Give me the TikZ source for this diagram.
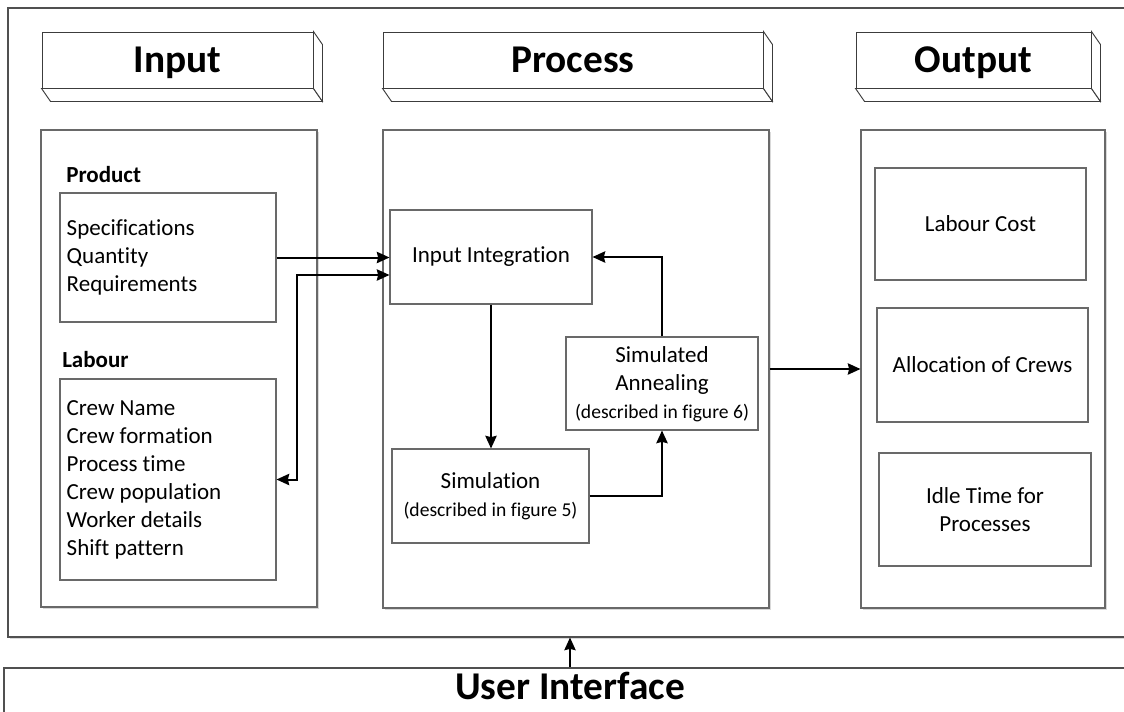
\documentclass[tikz,border=0pt]{standalone}
\usepackage{fontspec}
\setmainfont{Carlito}[Ligatures=NoCommon]
\usetikzlibrary{arrows.meta,fit,calc,shadows}
\definecolor{boxgray}{RGB}{105,105,105}
\definecolor{framegray}{RGB}{80,80,80}
\definecolor{hdrgray}{RGB}{60,60,60}
\newcommand{\bodyf}{\fontsize{17.25}{21}\selectfont}
\newcommand{\smallf}{\fontsize{14.7}{20}\selectfont}
\newcommand{\hdrf}{\fontsize{29.5}{35}\selectfont\bfseries}
\begin{document}
\begin{tikzpicture}[x=0.75pt,y=-0.75pt,
  box/.style={draw=boxgray, line width=0.8pt, fill=white, inner sep=0pt, font=\bodyf, align=center},
  panel/.style={box, drop shadow={shadow xshift=1.5pt, shadow yshift=-1.5pt, fill=black!15, opacity=1}},
  hdr/.style={draw=hdrgray, line width=0.7pt, fill=white, inner sep=0pt, font=\hdrf},
  hdrside/.style={draw=hdrgray, line width=0.7pt, fill=white, line join=miter},
  hdrtext/.style={font=\hdrf, inner sep=0pt, anchor=base},
  arr/.style={draw=black, line width=1.5pt, -{Stealth[length=9.5pt,width=8.5pt,inset=1pt]}},
  darr/.style={draw=black, line width=1.5pt, {Stealth[length=9.5pt,width=8.5pt,inset=1pt]}-{Stealth[length=9.5pt,width=8.5pt,inset=1pt]}},
  lbl/.style={font=\bodyf\bfseries, inner sep=0pt, anchor=west},
  list/.style={font=\bodyf, align=left, inner sep=0pt, anchor=west}
]
\useasboundingbox (0,0) rectangle (1124,711);
\clip (0,0) rectangle (1124,711);
\fill[white] (0,0) rectangle (1124,711);

% outer frame and user interface
\node[box, draw=framegray, drop shadow={shadow xshift=1.5pt, shadow yshift=-1.5pt, fill=black!15, opacity=1}, fit={(8,8) (1132,637)}] (frame) {};
\node[box, draw=framegray, line width=1pt, fit={(4,668) (1136,730)}] (ui) {};
\node[hdrtext] (uitext) at (570,699) {User Interface};

% 3-D headers
\node[hdr, fit={(42,32) (313,88)}] (hin) {};
\node[hdr, fit={(383,32) (763,88)}] (hpr) {};
\node[hdr, fit={(856,32) (1091,88)}] (hout) {};
\foreach \h in {hin,hpr,hout}{
  \draw[hdrside] (\h.south west) -- ++(9,13) -- ($(\h.south east)+(9,13)$) -- (\h.south east) -- cycle;
  \draw[hdrside] (\h.south east) -- ++(9,13) -- ($(\h.north east)+(9,13)$) -- (\h.north east) -- cycle;
}
\node[hdrtext] at ($(hin.center)+(0,12)$) {Input};
\node[hdrtext] at ($(hpr.center)+(0,12)$) {Process};
\node[hdrtext] at ($(hout.center)+(0,12)$) {Output};

% panels
\node[panel, fit={(41,130) (317,607)}] (inpanel) {};
\node[panel, fit={(383,130) (769,608)}] (procpanel) {};
\node[panel, fit={(861,130) (1105,608)}] (outpanel) {};

% input panel
\node[lbl] (prodlbl) at (66,175) {Product};
\node[box, fit={(60,193) (276,322)}] (prodbox) {};
\node[list] (prodlist) at ($(prodbox.west)+(7,0)$) {Specifications\\Quantity\\Requirements};
\node[lbl] (lablbl) at (62,360) {Labour};
\node[box, fit={(60,379) (276,580)}] (labbox) {};
\node[list] (lablist) at ($(labbox.west)+(7,0)$) {Crew Name\\Crew formation\\Process time\\Crew population\\Worker details\\Shift pattern};

% process panel
\node[box, fit={(390,210) (592,304)}] (intg) {};
\node[font=\bodyf, inner sep=0pt] at (intg.center) {Input Integration};
\node[box, fit={(392,449) (589,543)}] (sim) {};
\node[font=\bodyf, align=center, inner sep=0pt] at (sim.center) {Simulation\\{\smallf (described in figure 5)}};
\node[box, fit={(566,337) (758,430)}] (sa) {};
\node[font=\bodyf, align=center, inner sep=0pt] at ($(sa.center)+(0,1)$) {Simulated\\Annealing\\{\smallf (described in figure 6)}};

% output panel
\node[box, fit={(875,168) (1086,280)}] (cost) {};
\node[font=\bodyf, inner sep=0pt] at (cost.center) {Labour Cost};
\node[box, fit={(877,308) (1088,422)}] (alloc) {};
\node[font=\bodyf, inner sep=0pt] at (alloc.center) {Allocation of Crews};
\node[box, fit={(879,453) (1091,566)}] (idle) {};
\node[font=\bodyf, align=center, inner sep=0pt] at (idle.center) {Idle Time for\\Processes};

% connectors
\coordinate (dbl) at (297,275);
\draw[arr] (prodbox.east) -- (intg.west |- prodbox.east);
\draw[darr] (labbox.east) -| (dbl) -- (intg.west |- dbl);
\draw[arr] (intg.south) -- (intg.south |- sim.north);
\draw[arr] (sim.east) -| (sa.south);
\draw[arr] (sa.north) |- (intg.east);
\draw[arr] (procpanel.east) -- (outpanel.west |- procpanel.east);
\draw[arr, line width=1.2pt] (ui.north) -- (frame.south);
\end{tikzpicture}
\end{document}
